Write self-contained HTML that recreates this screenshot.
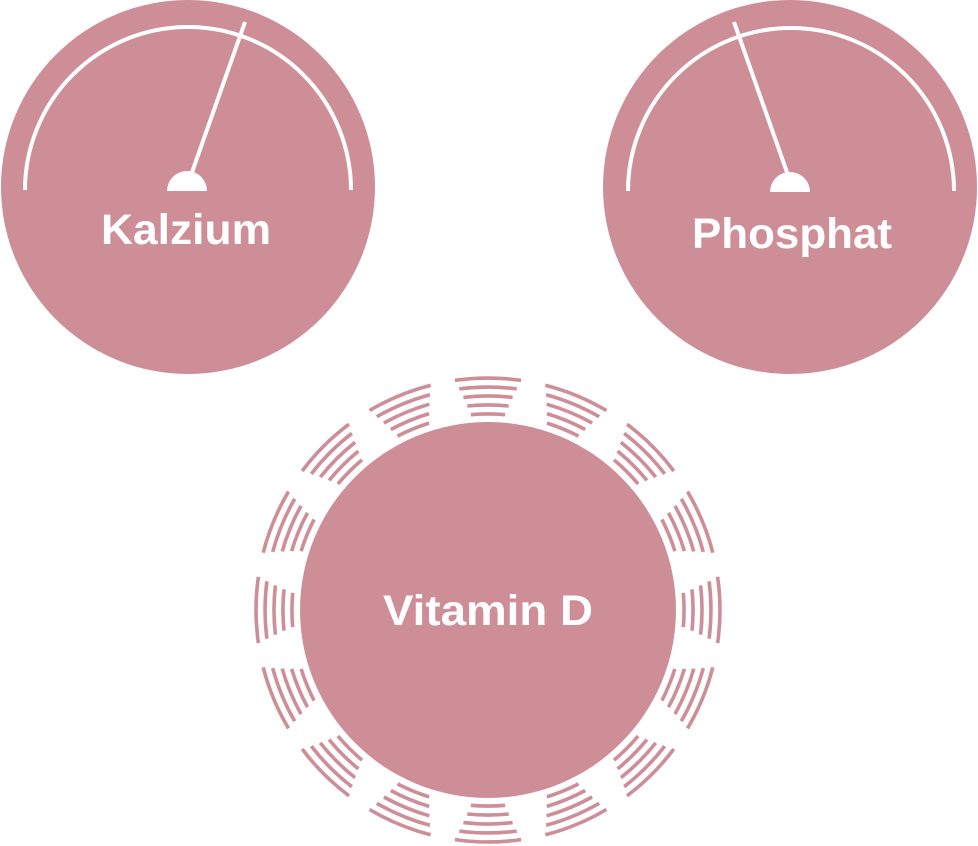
<!DOCTYPE html>
<html><head><meta charset="utf-8"><style>
html,body{margin:0;padding:0;background:#fff;width:978px;height:846px;overflow:hidden}
text{font-family:"Liberation Sans",sans-serif;font-weight:bold;fill:#fff;text-anchor:middle}
</style></head><body>
<svg id="s" width="978" height="846" viewBox="0 0 978 846" xmlns="http://www.w3.org/2000/svg">
<g fill="#cd8e97">
<circle cx="188" cy="187" r="187"/>
<circle cx="790" cy="187" r="187"/>
<circle cx="488" cy="610" r="188"/>
</g>
<g fill="none" stroke="#fff" stroke-width="4">
<path d="M25 190 A163 163 0 0 1 351 190"/>
<path d="M628 191 A163 163 0 0 1 954 191"/>
<line x1="190" y1="178" x2="245" y2="22"/>
<line x1="789" y1="178" x2="734" y2="22"/>
</g>
<g fill="#fff">
<path d="M167 191 A20 20 0 0 1 207 191 Z"/>
<path d="M770 192 A20 20 0 0 1 810 192 Z"/>
</g>
<text x="186" y="244" font-size="43" textLength="170" lengthAdjust="spacingAndGlyphs">Kalzium</text>
<text x="792" y="248" font-size="43" textLength="200" lengthAdjust="spacingAndGlyphs">Phosphat</text>
<text x="488" y="625" font-size="43" textLength="210" lengthAdjust="spacingAndGlyphs">Vitamin D</text>
<g id="rays" fill="none" stroke="#cd8e97" stroke-width="3.6"></g>
</svg>
<script>
var g=document.getElementById('rays'),cx=488,cy=610,out='';
var radii=[196,205,214,223,232];
for(var k=0;k<16;k++){
 var c=-Math.PI/2+k*Math.PI/8;
 for(var i=0;i<radii.length;i++){
  var r=radii[i];
  var h=(5+ (r-196)/36*3.2)*Math.PI/180;
  var a1=c-h,a2=c+h;
  out+='<path d="M'+(cx+r*Math.cos(a1)).toFixed(1)+' '+(cy+r*Math.sin(a1)).toFixed(1)+' A'+r+' '+r+' 0 0 1 '+(cx+r*Math.cos(a2)).toFixed(1)+' '+(cy+r*Math.sin(a2)).toFixed(1)+'"/>';
 }
}
g.innerHTML=out;
</script>
</body></html>
